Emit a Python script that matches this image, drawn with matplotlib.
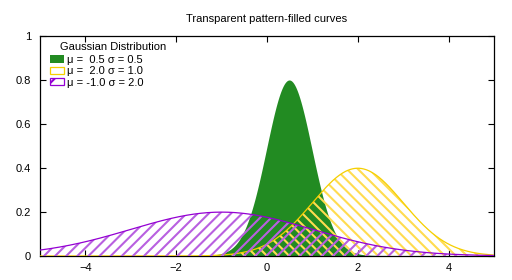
import numpy as np
import matplotlib

matplotlib.use("Agg")
import matplotlib.pyplot as plt
from matplotlib.patches import Patch

# ---------------------------------------------------------------------
# chart data
# ---------------------------------------------------------------------

TITLE = "Transparent pattern-filled curves"
LEGEND_TITLE = "Gaussian Distribution"

means = [0.5, 2.0, -1.0]
sigmas = [0.5, 1.0, 2.0]
labels = ["\u03bc =  0.5 \u03c3 = 0.5",
          "\u03bc =  2.0 \u03c3 = 1.0",
          "\u03bc = -1.0 \u03c3 = 2.0"]

x_ticks = [-4, -2, 0, 2, 4]
y_ticks = [0, 0.2, 0.4, 0.6, 0.8, 1]
y_tick_labels = ["0", "0.2", "0.4", "0.6", "0.8", "1"]

# styles: line colour, hatch colour, hatch pattern (None = solid fill)
line_colors = ["#228b22", "#f5cf00", "#9400d3"]
hatch_colors = ["#228b22", "#ffdc50", "#b860e0"]
hatches = [None, "\\\\\\", "///"]

plt.rcParams["font.family"] = ["Liberation Sans", "DejaVu Sans"]
plt.rcParams["hatch.linewidth"] = 1.5
FS = 8


def gauss(x, mu, sigma):
    return np.exp(-0.5 * ((x - mu) / sigma) ** 2) / (sigma * np.sqrt(2 * np.pi))


fig = plt.figure(figsize=(5.12, 2.8), dpi=100)
ax = fig.add_axes([40 / 512, 24 / 280, 454 / 512, 220 / 280])

xs = np.linspace(-5, 5, 600)
handles = []
for i, (mu, sd) in enumerate(zip(means, sigmas)):
    ys = gauss(xs, mu, sd)
    if hatches[i] is None:
        ax.fill_between(xs, 0, ys, facecolor=line_colors[i], edgecolor="none",
                        zorder=2 + i)
        handles.append(Patch(facecolor=line_colors[i], edgecolor="none",
                             label=labels[i]))
    else:
        ax.fill_between(xs, 0, ys, facecolor="none", edgecolor=hatch_colors[i],
                        hatch=hatches[i], linewidth=0, zorder=2 + i)
        ax.plot(xs, ys, color=line_colors[i], lw=0.9, zorder=2 + i)
        handles.append(Patch(facecolor="none", edgecolor=line_colors[i],
                             hatch=hatches[i][0], lw=0.9, label=labels[i]))

ax.set_xlim(-5, 5)
ax.set_ylim(0, 1)
ax.set_xticks(x_ticks)
ax.set_yticks(y_ticks)
ax.set_yticklabels(y_tick_labels)
ax.tick_params(direction="in", length=4, width=0.8, top=True, right=True,
               labelsize=FS)
ax.tick_params(axis="x", pad=5)
ax.tick_params(axis="y", pad=6.5)
for sp in ax.spines.values():
    sp.set_linewidth(0.9)

ax.set_title(TITLE, fontsize=FS, pad=10)

# legend title placed by hand, entries below it
fig.text(60 / 512, 1 - 47 / 280, LEGEND_TITLE, fontsize=FS,
         ha="left", va="center")
ax.legend(handles=handles, loc="upper left", frameon=False, fontsize=FS,
          handlelength=1.25, handleheight=0.65, handletextpad=0.3,
          labelspacing=0.12, borderpad=0, borderaxespad=0,
          bbox_to_anchor=(50 / 512, 1 - 55 / 280),
          bbox_transform=fig.transFigure)

fig.savefig("out.png", dpi=100)
